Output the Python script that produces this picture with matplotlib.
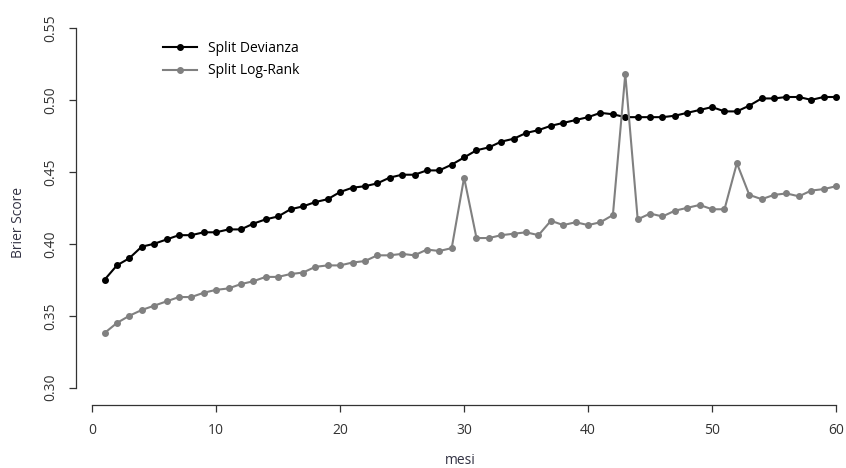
import numpy as np
import matplotlib
matplotlib.use('Agg')
import matplotlib.pyplot as plt

# ── dati ──
mesi = np.arange(1, 61)
split_devianza = [
    0.375, 0.385, 0.390, 0.398, 0.400, 0.403, 0.406, 0.406, 0.408, 0.408,
    0.410, 0.410, 0.414, 0.417, 0.419, 0.424, 0.426, 0.429, 0.431, 0.436,
    0.439, 0.440, 0.442, 0.446, 0.448, 0.448, 0.451, 0.451, 0.455, 0.460,
    0.465, 0.467, 0.471, 0.473, 0.477, 0.479, 0.482, 0.484, 0.486, 0.488,
    0.491, 0.490, 0.488, 0.488, 0.488, 0.488, 0.489, 0.491, 0.493, 0.495,
    0.492, 0.492, 0.496, 0.501, 0.501, 0.502, 0.502, 0.500, 0.502, 0.502]
split_logrank = [
    0.338, 0.345, 0.350, 0.354, 0.357, 0.360, 0.363, 0.363, 0.366, 0.368,
    0.369, 0.372, 0.374, 0.377, 0.377, 0.379, 0.380, 0.384, 0.385, 0.385,
    0.387, 0.388, 0.392, 0.392, 0.393, 0.392, 0.396, 0.395, 0.397, 0.446,
    0.404, 0.404, 0.406, 0.407, 0.408, 0.406, 0.416, 0.413, 0.415, 0.413,
    0.415, 0.420, 0.518, 0.417, 0.421, 0.419, 0.423, 0.425, 0.427, 0.424,
    0.424, 0.456, 0.434, 0.431, 0.434, 0.435, 0.433, 0.437, 0.438, 0.440]
xticks = [0, 10, 20, 30, 40, 50, 60]
yticks = [0.30, 0.35, 0.40, 0.45, 0.50, 0.55]

plt.rcParams['font.family'] = ['Open Sans', 'DejaVu Sans']
fig = plt.figure(figsize=(8.46, 4.68), dpi=100)
ax = fig.add_axes([76 / 846, 1 - 405 / 468, 1 - 76 / 846, 405 / 468])

ax.plot(mesi, split_devianza, color='black', lw=1.5, marker='o', ms=4, label='Split Devianza')
ax.plot(mesi, split_logrank, color='#808080', lw=1.5, marker='o', ms=4, label='Split Log-Rank')

ax.set_xlim(-1.3, 60.8)
ax.set_ylim(0.288, 0.5694)
for s in ['top', 'right']:
    ax.spines[s].set_visible(False)
ax.spines['left'].set_bounds(0.30, 0.55)
ax.spines['bottom'].set_bounds(0, 60)
for s in ['left', 'bottom']:
    ax.spines[s].set_color('#333333')
    ax.spines[s].set_linewidth(0.9)

ax.set_xticks(xticks)
ax.set_yticks(yticks)
ax.set_yticklabels([f'{v:.2f}' for v in yticks], rotation=90, va='center')
ax.tick_params(colors='#333333', labelcolor='#333333', labelsize=10, length=5, width=0.9)
ax.tick_params(axis='x', pad=8)
ax.tick_params(axis='y', pad=8)

fig.text(460 / 846, 1 - 461 / 468, 'mesi', ha='center', va='center', fontsize=10, color='#333344')
fig.text(19 / 846, 1 - 222 / 468, 'Brier Score', ha='center', va='center', rotation=90,
         fontsize=10, color='#333344')

ax.legend(loc='upper left', bbox_to_anchor=(0.097, 0.93), frameon=False, fontsize=10,
          handlelength=2.4, handletextpad=0.8, labelspacing=0.55)

fig.savefig('out.png', dpi=100)
